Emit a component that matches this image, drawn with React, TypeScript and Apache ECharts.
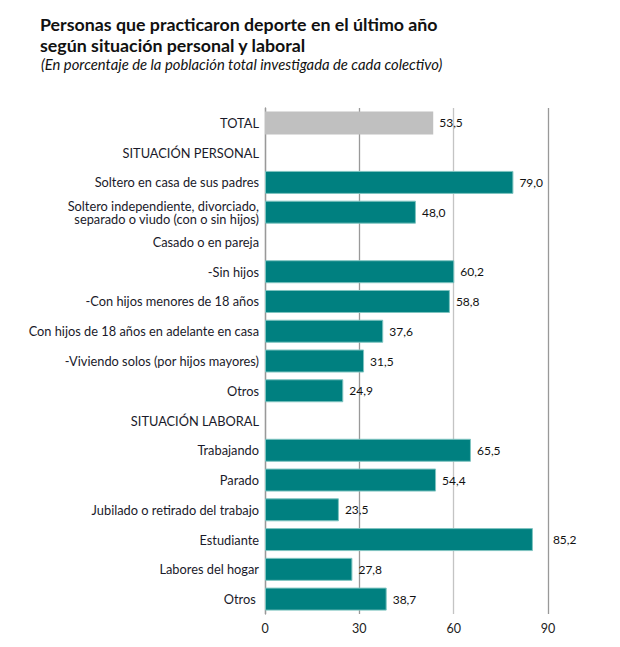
import React, { useEffect, useRef } from "react";
import * as echarts from "echarts";

const categories = [
  "TOTAL",
  "SITUACIÓN PERSONAL",
  "Soltero en casa de sus padres",
  "Soltero independiente, divorciado,\nseparado o viudo (con o sin hijos)",
  "Casado o en pareja",
  "-Sin hijos",
  "-Con hijos menores de 18 años",
  "Con hijos de 18 años en adelante en casa",
  "-Viviendo solos (por hijos mayores)",
  "Otros",
  "SITUACIÓN LABORAL",
  "Trabajando",
  "Parado",
  "Jubilado o retirado del trabajo",
  "Estudiante",
  "Labores del hogar",
  "Otros ",
];

const values: (number | null)[] = [
  53.5, null, 79.0, 48.0, null, 60.2, 58.8, 37.6, 31.5, 24.9, null, 65.5, 54.4, 23.5, 85.2, 27.8, 38.7,
];

const xTicks = [0, 30, 60, 90];

const TITLE = "Personas que practicaron deporte en el último año\nsegún situación personal y laboral";
const SUBTITLE = "(En porcentaje de la población total investigada de cada colectivo)";

const FONT = "Lato, 'Noto Sans', sans-serif";

export default function App() {
  const ref = useRef<HTMLDivElement>(null);
  useEffect(() => {
    if (!ref.current) return;
    const chart = echarts.init(ref.current, undefined, { renderer: "svg" });
    const data = values.map((v, i) => {
      if (v === null) return { value: null };
      const item: any = {
        value: v,
        itemStyle: { color: i === 0 ? "#c0c0c0" : "#008080", borderColor: i === 0 ? "#c0c0c0" : "#7fc4c0", borderWidth: i === 0 ? 0 : 1 },
      };
      if (v > 80) item.label = { distance: 20 };
      return item;
    });
    chart.setOption({
      animation: false,
      textStyle: { fontFamily: FONT },
      title: [
        {
          text: TITLE,
          left: 40,
          top: 13,
          padding: 0,
          textStyle: { fontFamily: FONT, fontSize: 17.8, fontWeight: "bold", color: "#111", lineHeight: 21 },
        },
        {
          text: SUBTITLE,
          left: 41,
          top: 56,
          padding: 0,
          textStyle: { fontFamily: FONT, fontSize: 14.8, fontStyle: "italic", fontWeight: "normal", color: "#111", lineHeight: 16 },
        },
      ],
      grid: { left: 265, right: 72, top: 108, bottom: 33, containLabel: false },
      xAxis: {
        type: "value",
        min: 0,
        max: 90,
        interval: 30,
        axisLine: { show: false },
        axisTick: { show: false },
        axisLabel: {
          color: "#222",
          fontSize: 12.5,
          margin: 8,
          formatter: (v: number) => (xTicks.includes(v) ? String(v) : ""),
        },
        splitLine: { show: true, lineStyle: { color: ["#999", "#999", "#c4c4c4", "#999"], width: 1.3 } },
      },
      yAxis: {
        type: "category",
        data: categories,
        inverse: true,
        axisLine: { show: true, lineStyle: { color: "#999", width: 1.3 } },
        axisTick: { show: false },
        axisLabel: {
          color: "#1a1a2a",
          fontSize: 12.8,
          margin: 6,
          lineHeight: 13,
          align: "right",
        },
        splitLine: { show: false },
      },
      series: [
        {
          type: "bar",
          data,
          barWidth: 23,
          label: {
            show: true,
            position: "right",
            distance: 6,
            color: "#111",
            fontSize: 12,
            formatter: (p: any) => (p.value == null ? "" : Number(p.value).toFixed(1).replace(".", ",")),
          },
        },
      ],
    });
    return () => chart.dispose();
  }, []);
  return <div ref={ref} style={{ width: 620, height: 647, position: "absolute", left: 0, top: 0 }} />;
}
